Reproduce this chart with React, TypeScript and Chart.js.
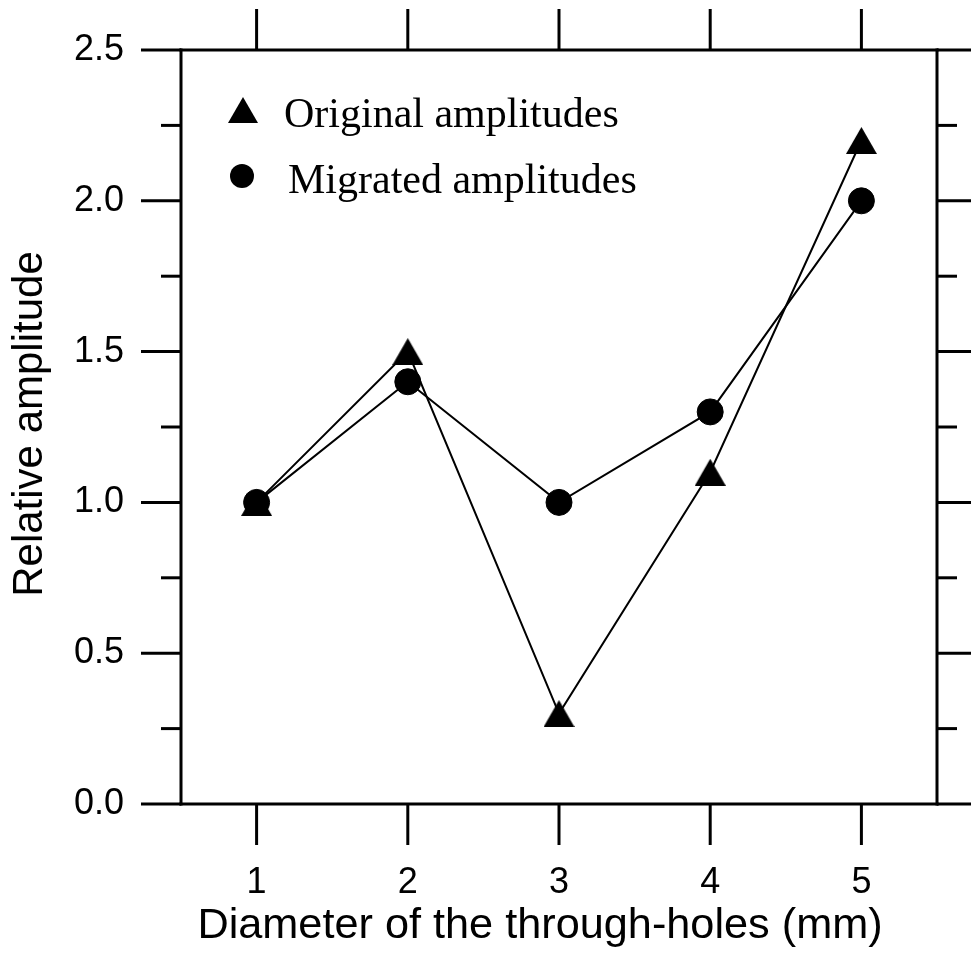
import React, { useEffect, useRef } from 'react';
import { Chart, registerables } from 'chart.js';

Chart.register(...registerables);

// Hole diameters (mm) and the relative amplitudes measured for each
const DIAMETERS = [1, 2, 3, 4, 5];
const ORIGINAL = [1.0, 1.5, 0.3, 1.1, 2.2];
const MIGRATED = [1.0, 1.4, 1.0, 1.3, 2.0];

// Axis ticks
const X_TICKS = [1, 2, 3, 4, 5];
const Y_MAJOR = [0, 0.5, 1.0, 1.5, 2.0, 2.5];
const Y_MINOR = [0.25, 0.75, 1.25, 1.75, 2.25];

const SERIES_NAMES = ['Original amplitudes', 'Migrated amplitudes'];
const X_TITLE = 'Diameter of the through-holes (mm)';
const Y_TITLE = 'Relative amplitude';

const W = 971;
const H = 956;
const SANS = '"Liberation Sans", Arial, Helvetica, sans-serif';
const SERIF = '"Liberation Serif", "Times New Roman", Times, serif';

function makeTriangle(w: number, h: number): HTMLCanvasElement {
  const c = document.createElement('canvas');
  c.width = w;
  c.height = h;
  const g = c.getContext('2d')!;
  g.fillStyle = '#000';
  g.beginPath();
  g.moveTo(w / 2, 0);
  g.lineTo(w, h);
  g.lineTo(0, h);
  g.closePath();
  g.fill();
  return c;
}

// Box frame with outward ticks on all four sides
const framePlugin = {
  id: 'frame',
  afterDraw(chart: any) {
    const { ctx, chartArea: a, scales } = chart;
    const x = scales.x;
    const y = scales.y;
    const MAJ = 40;
    const MIN = 20;
    ctx.save();
    ctx.strokeStyle = '#000';
    ctx.lineWidth = 3;
    const line = (x1: number, y1: number, x2: number, y2: number) => {
      ctx.beginPath();
      ctx.moveTo(x1, y1);
      ctx.lineTo(x2, y2);
      ctx.stroke();
    };
    ctx.lineCap = 'square';
    line(a.left, a.top, a.right, a.top);
    line(a.left, a.bottom, a.right, a.bottom);
    line(a.left, a.top, a.left, a.bottom);
    line(a.right, a.top, a.right, a.bottom);
    ctx.lineCap = 'butt';
    for (const v of Y_MAJOR) {
      const p = y.getPixelForValue(v);
      line(a.left - MAJ, p, a.left, p);
      line(a.right, p, chart.width, p);
    }
    for (const v of Y_MINOR) {
      const p = y.getPixelForValue(v);
      line(a.left - MIN, p, a.left, p);
      line(a.right, p, a.right + MIN, p);
    }
    for (const v of X_TICKS) {
      const p = x.getPixelForValue(v);
      line(p, a.top - MAJ - 1, p, a.top);
      line(p, a.bottom, p, a.bottom + MAJ + 1);
    }
    ctx.restore();
  },
};

// Axis titles and the in-plot legend
const annotatePlugin = {
  id: 'annotate',
  afterDraw(chart: any) {
    const { ctx, chartArea: a } = chart;
    ctx.save();
    ctx.fillStyle = '#000';

    // y title
    ctx.save();
    ctx.translate(42, (a.top + a.bottom) / 2 - 3);
    ctx.rotate(-Math.PI / 2);
    ctx.font = `42px ${SANS}`;
    ctx.textAlign = 'center';
    ctx.textBaseline = 'alphabetic';
    ctx.fillText(Y_TITLE, 0, 0);
    ctx.restore();

    // x title
    ctx.save();
    ctx.translate(540, 938);
    ctx.scale(1.03, 1);
    ctx.font = `42px ${SANS}`;
    ctx.textAlign = 'center';
    ctx.textBaseline = 'alphabetic';
    ctx.fillText(X_TITLE, 0, 0);
    ctx.restore();

    // legend markers
    ctx.beginPath();
    ctx.moveTo(243, 97);
    ctx.lineTo(258, 123);
    ctx.lineTo(228, 123);
    ctx.closePath();
    ctx.fill();
    ctx.beginPath();
    ctx.arc(242, 176, 12, 0, Math.PI * 2);
    ctx.fill();

    // legend text
    ctx.font = `42px ${SERIF}`;
    ctx.textAlign = 'left';
    ctx.textBaseline = 'alphabetic';
    ctx.fillText(SERIES_NAMES[0], 284, 127);
    ctx.fillText(SERIES_NAMES[1], 288, 193);

    ctx.restore();
  },
};

export default function App() {
  const canvasRef = useRef<HTMLCanvasElement | null>(null);

  useEffect(() => {
    const canvas = canvasRef.current;
    if (!canvas) return;
    const triangle = makeTriangle(31, 27);

    const chart = new Chart(canvas, {
      type: 'line',
      data: {
        datasets: [
          {
            label: SERIES_NAMES[0],
            data: DIAMETERS.map((d, i) => ({ x: d, y: ORIGINAL[i] })),
            borderColor: '#000',
            backgroundColor: '#000',
            borderWidth: 2,
            pointStyle: triangle as any,
            pointRadius: 15,
            order: 2,
          },
          {
            label: SERIES_NAMES[1],
            data: DIAMETERS.map((d, i) => ({ x: d, y: MIGRATED[i] })),
            borderColor: '#000',
            backgroundColor: '#000',
            borderWidth: 2,
            pointStyle: 'circle',
            pointRadius: 13,
            pointBorderWidth: 1,
            order: 1,
          },
        ],
      },
      options: {
        responsive: false,
        animation: false,
        devicePixelRatio: 1,
        layout: { padding: { top: 50, right: 34, left: 0, bottom: 0 } },
        plugins: {
          legend: { display: false },
          tooltip: { enabled: false },
        },
        elements: { line: { tension: 0 } },
        scales: {
          x: {
            type: 'linear',
            min: 0.5,
            max: 5.5,
            afterBuildTicks: (scale: any) => {
              scale.ticks = X_TICKS.map((v) => ({ value: v }));
            },
            afterFit: (scale: any) => {
              scale.height = 152;
              scale.paddingLeft = 0;
              scale.paddingRight = 0;
            },
            grid: { display: false, drawTicks: false },
            border: { display: false },
            ticks: {
              padding: 57,
              color: '#000',
              font: { family: SANS, size: 36 },
              maxRotation: 0,
              callback: (v: any) => String(v),
            },
          },
          y: {
            type: 'linear',
            min: 0,
            max: 2.5,
            afterBuildTicks: (scale: any) => {
              scale.ticks = Y_MAJOR.map((v) => ({ value: v }));
            },
            afterFit: (scale: any) => {
              scale.width = 181;
              scale.paddingTop = 0;
              scale.paddingBottom = 0;
            },
            grid: { display: false, drawTicks: false },
            border: { display: false },
            ticks: {
              padding: 57,
              color: '#000',
              font: { family: SANS, size: 36 },
              callback: (v: any) => Number(v).toFixed(1),
            },
          },
        },
      },
      plugins: [framePlugin, annotatePlugin],
    });

    return () => chart.destroy();
  }, []);

  return (
    <div style={{ position: 'fixed', left: 0, top: 0, width: W, height: H, background: '#fff' }}>
      <canvas ref={canvasRef} width={W} height={H} style={{ width: W, height: H, display: 'block' }} />
    </div>
  );
}
